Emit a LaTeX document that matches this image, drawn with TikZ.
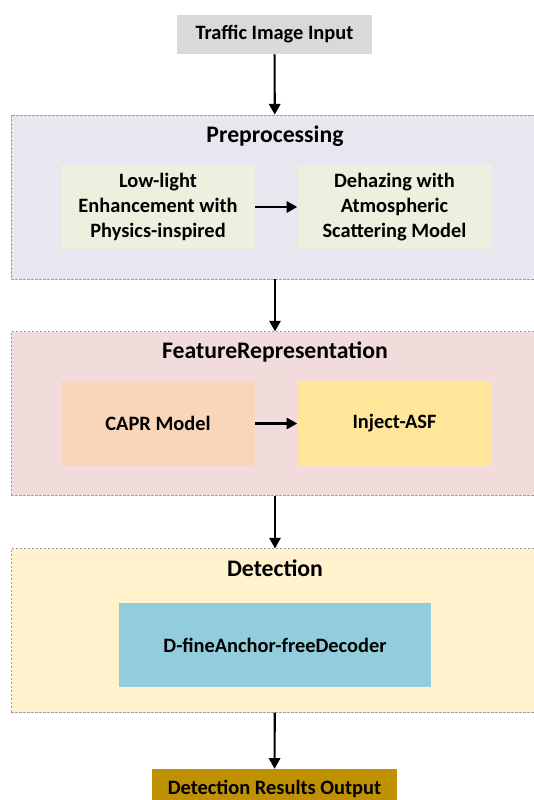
\documentclass[tikz,border=0pt]{standalone}
\usepackage{fontspec}
\setmainfont{Carlito}
\usetikzlibrary{arrows.meta}

\definecolor{inputgray}{HTML}{D9D9D9}
\definecolor{prebg}{HTML}{EAE6F0}
\definecolor{pregreen}{HTML}{EBF1DE}
\definecolor{featbg}{HTML}{F2DCDB}
\definecolor{caprpeach}{HTML}{F9D5B9}
\definecolor{asfyellow}{HTML}{FFE699}
\definecolor{detbg}{HTML}{FFF2CC}
\definecolor{decblue}{HTML}{92CDDC}
\definecolor{outgold}{HTML}{BF9000}

\tikzset{
  groupbox/.style={draw=gray!75, dash pattern=on 2pt off 1pt, line width=0.6pt,
    minimum width=396pt, minimum height=122.5pt, inner sep=0pt},
  stagebox/.style={draw=none, minimum width=145.5pt, minimum height=63.5pt,
    align=center, inner sep=0pt, font=\fontsize{15.3}{18.5}\selectfont\bfseries},
  iobox/.style={draw=none, minimum height=29.25pt, inner sep=0pt,
    font=\fontsize{15.3}{18.5}\selectfont\bfseries},
  grouptitle/.style={font=\fontsize{17.8}{21}\selectfont\bfseries},
  flow/.style={-{Triangle[length=8pt,width=8.5pt]}, line width=1.6pt, black}
}

\begin{document}
\begin{tikzpicture}[x=0.75pt,y=0.75pt,yscale=-1,xscale=1]
\useasboundingbox (0,0) rectangle (534,800);
\clip (0,0) rectangle (534,800);

% input
\node [iobox, fill=inputgray, minimum width=146.25pt] (input) at (274.5, 34.5) {Traffic Image Input};

% preprocessing
\node [groupbox, fill=prebg, minimum height=123pt] (pre) at (275, 197) {};
\node [grouptitle] (pretitle) at (275, 136) {Preprocessing};
\node [stagebox, fill=pregreen] (lowlight) at (158, 207) {Low-light\\Enhancement with\\Physics-inspired};
\node [stagebox, fill=pregreen] (dehaze) at (394.5, 207) {Dehazing with\\Atmospheric\\Scattering Model};

% feature representation
\node [groupbox, fill=featbg] (feat) at (275, 413.5) {};
\node [grouptitle] (feattitle) at (275, 352) {FeatureRepresentation};
\node [stagebox, fill=caprpeach] (capr) at (158, 423.5) {CAPR Model};
\node [stagebox, fill=asfyellow] (asf) at (394.5, 423.5) {Inject-ASF};

% detection
\node [groupbox, fill=detbg] (det) at (275, 630.5) {};
\node [grouptitle] (dettitle) at (275, 568) {Detection};
\node [stagebox, fill=decblue, minimum width=234.4pt] (decoder) at (275, 645) {D-fineAnchor-freeDecoder};

% output
\node [iobox, fill=outgold, minimum width=183.75pt] (output) at (274.5, 788.5) {Detection Results Output};

% arrows
\draw [flow] (input) -- (pre);
\draw [flow] (lowlight) -- (dehaze);
\draw [flow] (pre) -- (feat);
\draw [flow] (capr) -- (asf);
\draw [flow] (feat) -- (det);
\draw [flow] (det) -- (output);

\end{tikzpicture}
\end{document}
